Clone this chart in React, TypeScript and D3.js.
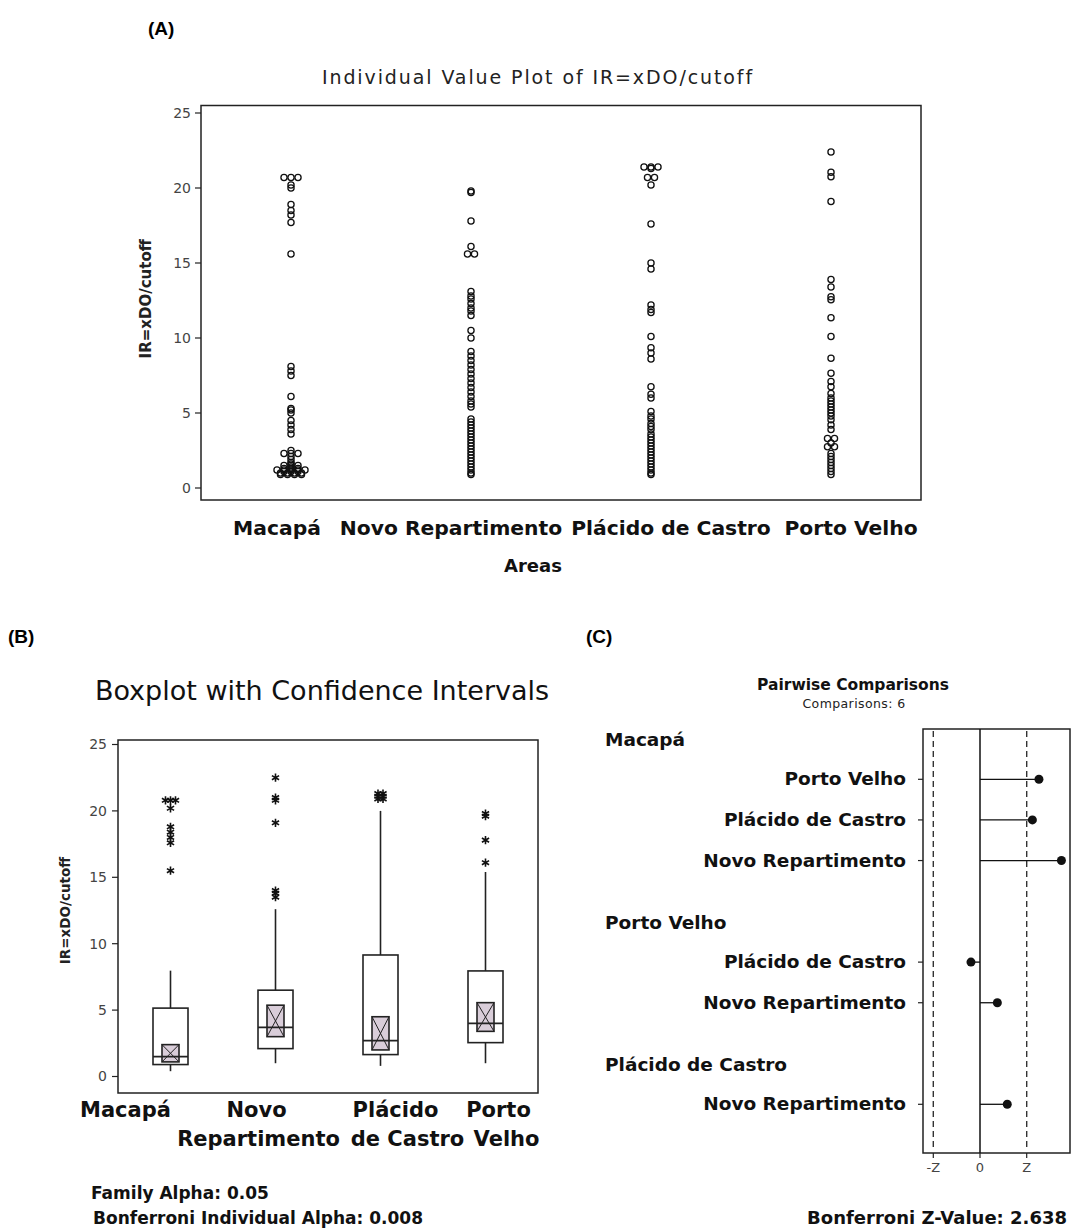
import * as d3 from "d3";

const areas = ["Macapá", "Novo Repartimento", "Plácido de Castro", "Porto Velho"];

// (A) individual values
const macapaValues = [
  20.7, 20.7, 20.7, 20.2, 20.0, 18.9, 18.5, 18.2, 17.7, 15.6, 8.1, 7.8, 7.5, 6.1, 5.3, 5.2, 5.0,
  4.5, 4.2, 3.9, 3.6, 2.5, 2.3, 2.3, 2.3, 2.1, 1.9, 1.7, 1.6, 1.5, 1.5, 1.5, 1.4, 1.3, 1.3, 1.3,
  1.2, 1.2, 1.2, 1.2, 1.2, 1.1, 1.1, 1.1, 1.0, 1.0, 1.0, 1.0, 0.9, 0.9, 0.9, 0.9,
];
const novoValues = [
  19.8, 19.7, 17.8, 16.1, 15.6, 15.6, 13.1, 12.8, 12.6, 12.3, 12.0, 11.8, 11.5, 10.5, 10.0, 9.1,
  8.8, 8.5, 8.2, 7.9, 7.6, 7.3, 7.0, 6.7, 6.4, 6.1, 5.8, 5.6, 5.4, 4.6, 4.4, 4.2, 4.0, 3.8, 3.6,
  3.4, 3.2, 3.0, 2.8, 2.6, 2.4, 2.2, 2.0, 1.8, 1.6, 1.4, 1.2, 1.0, 0.9,
];
const placidoValues = [
  21.4, 21.4, 21.4, 21.3, 20.7, 20.7, 20.2, 17.6, 15.0, 14.6, 12.2, 11.9, 11.7, 10.1, 9.35, 9.0,
  8.6, 6.75, 6.25, 6.0, 5.1, 4.8, 4.6, 4.3, 4.1, 3.9, 3.6, 3.4, 3.2, 3.0, 2.8, 2.6, 2.4, 2.2, 2.0,
  1.8, 1.6, 1.4, 1.2, 1.0, 0.9,
];
const portoValues = [
  22.4, 21.05, 20.75, 19.1, 13.9, 13.4, 12.75, 12.55, 11.35, 10.1, 8.65, 7.65, 7.1, 6.75, 6.3,
  6.0, 5.8, 5.6, 5.4, 5.2, 5.0, 4.8, 4.55, 4.2, 3.9, 3.3, 3.3, 3.0, 2.75, 2.75, 2.3, 2.1, 1.9, 1.7,
  1.5, 1.3, 1.1, 0.9,
];
const individualValues = [macapaValues, novoValues, placidoValues, portoValues];
const valueTicks = [0, 5, 10, 15, 20, 25];

// (B) boxplot summaries
const whiskerLow = [0.4, 1.0, 0.8, 1.0];
const q1 = [0.9, 2.1, 1.65, 2.55];
const median = [1.5, 3.7, 2.7, 4.0];
const q3 = [5.15, 6.5, 9.15, 7.95];
const whiskerHigh = [7.97, 12.6, 20.0, 15.4];
const ciLow = [1.1, 3.0, 2.0, 3.4];
const ciHigh = [2.4, 5.37, 4.5, 5.56];
const outliers = [
  [20.8, 20.8, 20.8, 20.2, 18.8, 18.4, 18.0, 17.6, 15.5],
  [22.5, 21.0, 20.8, 19.1, 14.0, 13.8, 13.5],
  [21.3, 21.3, 21.1, 21.1, 20.9, 20.9],
  [19.8, 19.6, 17.8, 16.1],
];
const boxLabels = [["Macapá"], ["Novo", "Repartimento"], ["Plácido", "de Castro"], ["Porto", "Velho"]];

// (C) pairwise comparisons
const compGroups = ["Macapá", "Porto Velho", "Plácido de Castro"];
const compAgainst = [
  ["Porto Velho", "Plácido de Castro", "Novo Repartimento"],
  ["Plácido de Castro", "Novo Repartimento"],
  ["Novo Repartimento"],
];
const compZ = [[3.33, 2.96, 4.6], [-0.51, 0.98], [1.54]];
const bonferroniZ = 2.638;

const bold = "'DejaVu Sans', sans-serif";
// label nudges so neighbouring category names do not collide
const aLabelShift = [-14, -20, 20, 20];
const bLabelShift = [
  [-45],
  [-19, -17],
  [15, 27],
  [13, 21],
];

function dodge(values: number[], spacing: number) {
  const counts = d3.rollup(values, (v) => v.length, (d) => d);
  const seen = new Map<number, number>();
  return values.map((v) => {
    const n = counts.get(v) ?? 1;
    const i = seen.get(v) ?? 0;
    seen.set(v, i + 1);
    return { v, off: (i - (n - 1) / 2) * spacing };
  });
}

export default function App() {
  // ---- panel A scales
  const ax = d3.scaleBand().domain(areas).range([201, 921]);
  const ay = d3.scaleLinear().domain([0, 25]).range([488, 113]);
  const aTop = 105.5, aBottom = 500;

  // ---- panel B scales
  const bx = d3.scaleBand().domain(areas).range([118, 538]);
  const by = d3.scaleLinear().domain([0, 25]).range([1076.5, 744.5]);
  const bTop = 740, bBottom = 1093;
  const boxW = 35, ciW = 17;
  const asterisk = d3.symbol(d3.symbolAsterisk, 48);

  // ---- panel C scales
  const cx = d3.scaleLinear().domain([0, bonferroniZ]).range([980, 1026.7]);
  const cLeft = 923, cRight = 1070, cTop = 729, cBottom = 1153;
  const rows: { group: number; label: string; z: number; pos: number }[] = [];
  const headers: { label: string; pos: number }[] = [];
  let p = 0;
  compGroups.forEach((g, gi) => {
    if (gi > 0) p += 1.5;
    headers.push({ label: g, pos: p - 0.95 });
    compAgainst[gi].forEach((lab, j) => {
      rows.push({ group: gi, label: lab, z: compZ[gi][j], pos: p });
      p += 1;
    });
  });
  const cy = d3.scaleLinear().domain([0, 8]).range([779.3, 1104.3]);

  return (
    <svg width={1078} height={1229} style={{ position: "absolute", left: 0, top: 0, background: "#fff" }}>
      {/* panel letters */}
      <g fontFamily="'Liberation Sans', Arial, sans-serif" fontWeight="bold" fontSize={19}>
        <text x={148} y={35}>(A)</text>
        <text x={8} y={643}>(B)</text>
        <text x={586} y={643}>(C)</text>
      </g>

      {/* ================= A ================= */}
      <text x={538} y={84} textAnchor="middle" fontFamily="'DejaVu Sans', sans-serif" fontSize={19} letterSpacing={1.9} fill="#222">
        Individual Value Plot of IR=xDO/cutoff
      </text>
      <rect x={201} y={aTop} width={720} height={aBottom - aTop} fill="none" stroke="#222" strokeWidth={1.5} />
      {valueTicks.map((t) => (
        <g key={"at" + t}>
          <line x1={195} x2={201} y1={ay(t)} y2={ay(t)} stroke="#222" strokeWidth={1.2} />
          <text x={191} y={ay(t)} dy="0.35em" textAnchor="end" fontFamily="'DejaVu Sans', sans-serif" fontSize={14} fill="#444">
            {t}
          </text>
        </g>
      ))}
      <text transform={`translate(151,${(aTop + aBottom) / 2 - 4}) rotate(-90)`} textAnchor="middle" fontFamily={bold} fontWeight="bold" fontSize={15} fill="#222">
        IR=xDO/cutoff
      </text>
      {areas.map((a, i) => (
        <g key={"ag" + a}>
          {dodge(individualValues[i], 7).map((d, k) => (
            <circle key={k} cx={ax(a)! + ax.bandwidth() / 2 + d.off} cy={ay(d.v)} r={3.1} fill="#fff" fillOpacity={0.01} stroke="#111" strokeWidth={1.3} />
          ))}
          <text x={ax(a)! + ax.bandwidth() / 2 + aLabelShift[i]} y={535} textAnchor="middle" fontFamily={bold} fontWeight="bold" fontSize={20.3} fill="#111">
            {a}
          </text>
        </g>
      ))}
      <text x={533} y={572} textAnchor="middle" fontFamily={bold} fontWeight="bold" fontSize={18} fill="#111">
        Areas
      </text>

      {/* ================= B ================= */}
      <text x={322} y={700} textAnchor="middle" fontFamily="'DejaVu Sans', sans-serif" fontSize={27} fill="#111">
        Boxplot with Confidence Intervals
      </text>
      <rect x={118} y={bTop} width={420} height={bBottom - bTop} fill="none" stroke="#222" strokeWidth={1.5} />
      {valueTicks.map((t) => (
        <g key={"bt" + t}>
          <line x1={112} x2={118} y1={by(t)} y2={by(t)} stroke="#222" strokeWidth={1.2} />
          <text x={107} y={by(t)} dy="0.35em" textAnchor="end" fontFamily="'DejaVu Sans', sans-serif" fontSize={14} fill="#444">
            {t}
          </text>
        </g>
      ))}
      <text transform={`translate(70,${(bTop + bBottom) / 2 - 6}) rotate(-90)`} textAnchor="middle" fontFamily={bold} fontWeight="bold" fontSize={13.5} fill="#222">
        IR=xDO/cutoff
      </text>
      {areas.map((a, i) => {
        const c = bx(a)! + bx.bandwidth() / 2;
        return (
          <g key={"bg" + a} stroke="#222" strokeWidth={1.6}>
            <line x1={c} x2={c} y1={by(whiskerLow[i])} y2={by(q1[i])} />
            <line x1={c} x2={c} y1={by(q3[i])} y2={by(whiskerHigh[i])} />
            <rect x={c - boxW / 2} y={by(q3[i])} width={boxW} height={by(q1[i]) - by(q3[i])} fill="#fff" />
            <rect x={c - ciW / 2} y={by(ciHigh[i])} width={ciW} height={by(ciLow[i]) - by(ciHigh[i])} fill="#d9cdd9" />
            <line x1={c - ciW / 2} x2={c + ciW / 2} y1={by(ciHigh[i])} y2={by(ciLow[i])} strokeWidth={1} />
            <line x1={c + ciW / 2} x2={c - ciW / 2} y1={by(ciHigh[i])} y2={by(ciLow[i])} strokeWidth={1} />
            <line x1={c - boxW / 2} x2={c + boxW / 2} y1={by(median[i])} y2={by(median[i])} />
            {dodge(outliers[i], 5).map((d, k) => (
              <path key={k} d={asterisk()!} transform={`translate(${c + d.off},${by(d.v)})`} stroke="#111" strokeWidth={1.6} fill="none" />
            ))}
            {boxLabels[i].map((l, k) => (
              <text key={l} x={c + bLabelShift[i][k]} y={1117 + k * 29} textAnchor="middle" stroke="none" fill="#111" fontFamily={bold} fontWeight="bold" fontSize={21}>
                {l}
              </text>
            ))}
          </g>
        );
      })}
      <g fontFamily={bold} fontWeight="bold" fontSize={17} fill="#111">
        <text x={91} y={1199}>Family Alpha: 0.05</text>
        <text x={93} y={1224}>Bonferroni Individual Alpha: 0.008</text>
      </g>

      {/* ================= C ================= */}
      <text x={853} y={690} textAnchor="middle" fontFamily={bold} fontWeight="bold" fontSize={15.5} fill="#111">
        Pairwise Comparisons
      </text>
      <text x={854} y={708} textAnchor="middle" fontFamily="'DejaVu Sans', sans-serif" fontSize={12.5} letterSpacing={0.4} fill="#222">
        Comparisons: 6
      </text>
      <rect x={cLeft} y={cTop} width={cRight - cLeft} height={cBottom - cTop} fill="none" stroke="#222" strokeWidth={1.5} />
      {[-bonferroniZ, bonferroniZ].map((z) => (
        <line key={z} x1={cx(z)} x2={cx(z)} y1={cTop + 2} y2={cBottom - 2} stroke="#333" strokeWidth={1.4} strokeDasharray="6,4" />
      ))}
      <line x1={cx(0)} x2={cx(0)} y1={cTop} y2={cBottom} stroke="#111" strokeWidth={1.5} />
      {[
        { v: -bonferroniZ, l: "-Z" },
        { v: 0, l: "0" },
        { v: bonferroniZ, l: "Z" },
      ].map((t) => (
        <g key={t.l}>
          <line x1={cx(t.v)} x2={cx(t.v)} y1={cBottom} y2={cBottom + 5} stroke="#222" strokeWidth={1.2} />
          <text x={cx(t.v)} y={1172} textAnchor="middle" fontFamily="'DejaVu Sans', sans-serif" fontSize={13} fill="#444">
            {t.l}
          </text>
        </g>
      ))}
      {headers.map((h) => (
        <text key={h.label} x={605} y={cy(h.pos) + 5} fontFamily={bold} fontWeight="bold" fontSize={18.5} fill="#111">
          {h.label}
        </text>
      ))}
      {rows.map((r, i) => (
        <g key={"r" + i}>
          <line x1={cLeft - 5} x2={cLeft} y1={cy(r.pos)} y2={cy(r.pos)} stroke="#222" strokeWidth={1.2} />
          <text x={906} y={cy(r.pos) + 6} textAnchor="end" fontFamily={bold} fontWeight="bold" fontSize={18.5} fill="#111">
            {r.label}
          </text>
          <line x1={cx(0)} x2={cx(r.z)} y1={cy(r.pos)} y2={cy(r.pos)} stroke="#111" strokeWidth={1.3} />
          <circle cx={cx(r.z)} cy={cy(r.pos)} r={4.5} fill="#111" />
        </g>
      ))}
      <text x={1067} y={1224} textAnchor="end" fontFamily={bold} fontWeight="bold" fontSize={18} fill="#111">
        Bonferroni Z-Value: 2.638
      </text>
    </svg>
  );
}
